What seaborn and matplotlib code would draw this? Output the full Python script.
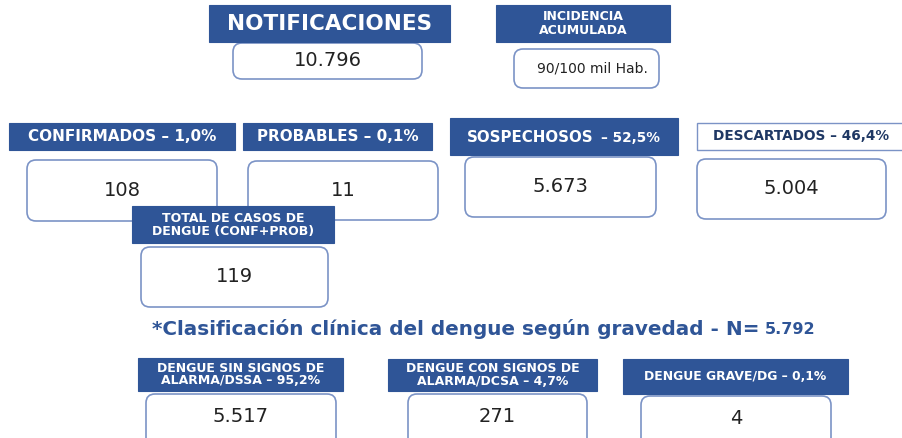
import matplotlib
matplotlib.use("Agg")
import matplotlib.pyplot as plt
from matplotlib.patches import FancyBboxPatch, Rectangle
import seaborn as sns

sns.set_theme(style="white")
plt.rcParams['font.family'] = ['DejaVu Sans']

# ---- data ----
header_labels = ["NOTIFICACIONES", "INCIDENCIA\nACUMULADA", "CONFIRMADOS – 1,0%",
                 "PROBABLES – 0,1%", "SOSPECHOSOS", "DESCARTADOS – 46,4%",
                 "TOTAL DE CASOS DE\nDENGUE (CONF+PROB)",
                 "DENGUE SIN SIGNOS DE\nALARMA/DSSA – 95,2%",
                 "DENGUE CON SIGNOS DE\nALARMA/DCSA – 4,7%",
                 "DENGUE GRAVE/DG – 0,1%"]
card_values = ["10.796", "90/100 mil Hab.", "108", "11", "5.673", "5.004",
               "119", "5.517", "271", "4"]
sospechosos_pct = "– 52,5%"
title_text = "*Clasificación clínica del dengue según gravedad - N="
title_n = "5.792"

# ---- layout (pixels) ----
BLUE = "#2F5597"
EDGE = "#7b93c6"
NAVY = "#1f3864"

# header boxes: x0, y0, x1, y1, fontsize, style
hdr = [
    (209, 5, 450, 42, 15.5, "fill"),
    (496, 5, 670, 42, 9, "fill"),
    (9, 123, 235, 150, 11, "fill"),
    (243, 123, 432, 150, 10.9, "fill"),
    (450, 118, 678, 155, 10.8, "fill"),
    (697, 123, 905, 150, 9.8, "outline"),
    (132, 206, 334, 243, 9, "fill"),
    (138, 358, 343, 391, 9, "fill"),
    (388, 359, 597, 391, 9, "fill"),
    (623, 359, 848, 394, 8.9, "fill"),
]
# value boxes: x0, y0, x1, y1, fontsize, xoffset
val = [
    (233, 43, 422, 79, 14, 0),
    (514, 49, 659, 88, 10, 6),
    (27, 160, 217, 221, 14, 0),
    (248, 161, 438, 220, 14, 0),
    (465, 157, 656, 217, 14, 0),
    (697, 159, 886, 219, 14, 0),
    (141, 247, 328, 307, 14, 0),
    (146, 394, 336, 450, 14, 0),
    (408, 394, 587, 450, 14, 0),
    (641, 396, 831, 452, 14, 0),
]

fig = plt.figure(figsize=(9.03, 4.38), dpi=100)
ax = fig.add_axes([0, 0, 1, 1])
ax.set_xlim(0, 903)
ax.set_ylim(438, 0)
ax.axis("off")

def value_box(i):
    x0, y0, x1, y1, fs, dx = val[i]
    ax.add_patch(FancyBboxPatch((x0, y0), x1 - x0, y1 - y0,
                                boxstyle="round,pad=0,rounding_size=9",
                                fc="white", ec=EDGE, lw=1.2, zorder=2))
    cy = (y0 + y1) / 2 if y1 < 440 else y0 + 23
    ax.text((x0 + x1) / 2 + dx, cy, card_values[i], ha="center", va="center",
            fontsize=fs, color="#222222", zorder=3)

def header_box(i):
    x0, y0, x1, y1, fs, style = hdr[i]
    if style == "fill":
        ax.add_patch(Rectangle((x0, y0), x1 - x0, y1 - y0, fc=BLUE, ec=BLUE,
                               lw=0.8, zorder=4))
        col = "white"
    else:
        ax.add_patch(Rectangle((x0, y0), x1 - x0, y1 - y0, fc="white", ec=EDGE,
                               lw=1.0, zorder=4))
        col = NAVY
    cx, cy = (x0 + x1) / 2, (y0 + y1) / 2
    if i == 4:
        ax.text(594, cy + 1, header_labels[i], ha="right", va="center",
                fontsize=fs, fontweight="bold", color=col, zorder=5)
        ax.text(601, cy + 2, sospechosos_pct, ha="left", va="center",
                fontsize=9.8, fontweight="bold", color=col, zorder=5)
    else:
        ax.text(cx, cy, header_labels[i], ha="center", va="center",
                fontsize=fs, fontweight="bold", color=col, zorder=5,
                linespacing=1.0)

for i in range(len(val)):
    value_box(i)
for i in range(len(hdr)):
    header_box(i)

ax.text(760, 329, title_text, ha="right", va="center", fontsize=14.4,
        fontweight="bold", color=BLUE)
ax.text(765, 330, title_n, ha="left", va="center", fontsize=11.5,
        fontweight="bold", color=BLUE)

fig.savefig("out.png", dpi=100)
